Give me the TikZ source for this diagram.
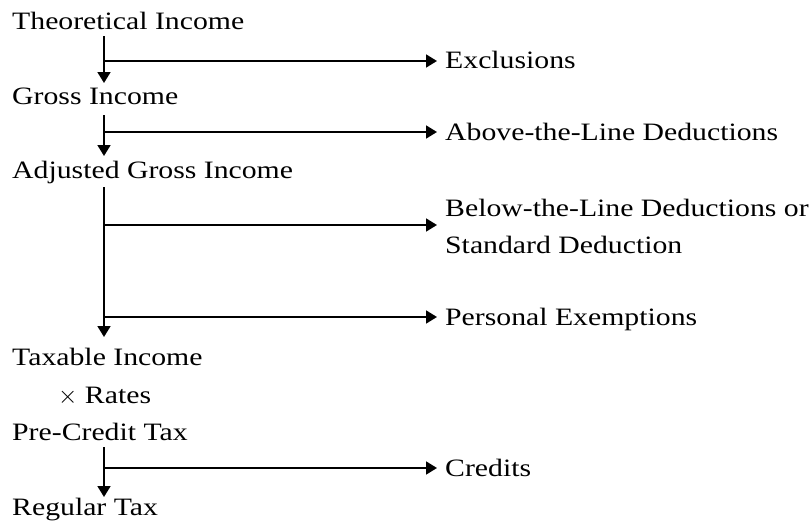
\documentclass[tikz,border=0pt]{standalone}
\usepackage{fontspec}
\setmainfont[FakeStretch=1.19]{Liberation Serif}
\usetikzlibrary{arrows.meta}
\begin{document}
\begin{tikzpicture}[x=1pt,y=-1pt,
  lbl/.style={anchor=base west,inner sep=0pt,font=\fontsize{25}{37}\selectfont,align=left},
  flow/.style={line width=1.8pt,-{Triangle[length=11pt,width=13pt]}}]
\useasboundingbox (0,0) rectangle (809,520);
\node[lbl] (ti) at (12,29) {Theoretical Income};
\node[lbl] (gi) at (12,104) {Gross Income};
\node[lbl] (agi) at (12,178) {Adjusted Gross Income};
\node[lbl] (tx) at (12,365) {Taxable Income};
\node[lbl] (rt) at (58,403) {$\times$ Rates};
\node[lbl] (pct) at (12,440) {Pre-Credit Tax};
\node[lbl] (reg) at (12,515) {Regular Tax};
\node[lbl] (ex) at (445,68) {Exclusions};
\node[lbl] (atl) at (445,140) {Above-the-Line Deductions};
\node[lbl] (btl) at (445,253) {Below-the-Line Deductions or\\Standard Deduction};
\node[lbl] (pe) at (445,325) {Personal Exemptions};
\node[lbl] (cr) at (445,476) {Credits};
% main flow
\coordinate (s1) at (104,36); \coordinate (e1) at (104,83);
\coordinate (s2) at (104,115); \coordinate (e2) at (104,156);
\coordinate (s3) at (104,187); \coordinate (e3) at (104,337);
\coordinate (s4) at (104,447); \coordinate (e4) at (104,497);
\draw[flow] (s1) -- (e1);
\draw[flow] (s2) -- (e2);
\draw[flow] (s3) -- (e3);
\draw[flow] (s4) -- (e4);
% branches
\coordinate (b1) at (104,61);
\coordinate (b2) at (104,132);
\coordinate (b3) at (104,225);
\coordinate (b4) at (104,317);
\coordinate (b5) at (104,468);
\draw[flow] (b1) -- ([xshift=-8pt]ex.west |- b1);
\draw[flow] (b2) -- ([xshift=-8pt]atl.west |- b2);
\draw[flow] (b3) -- ([xshift=-8pt]btl.west |- b3);
\draw[flow] (b4) -- ([xshift=-8pt]pe.west |- b4);
\draw[flow] (b5) -- ([xshift=-8pt]cr.west |- b5);
\end{tikzpicture}
\end{document}
